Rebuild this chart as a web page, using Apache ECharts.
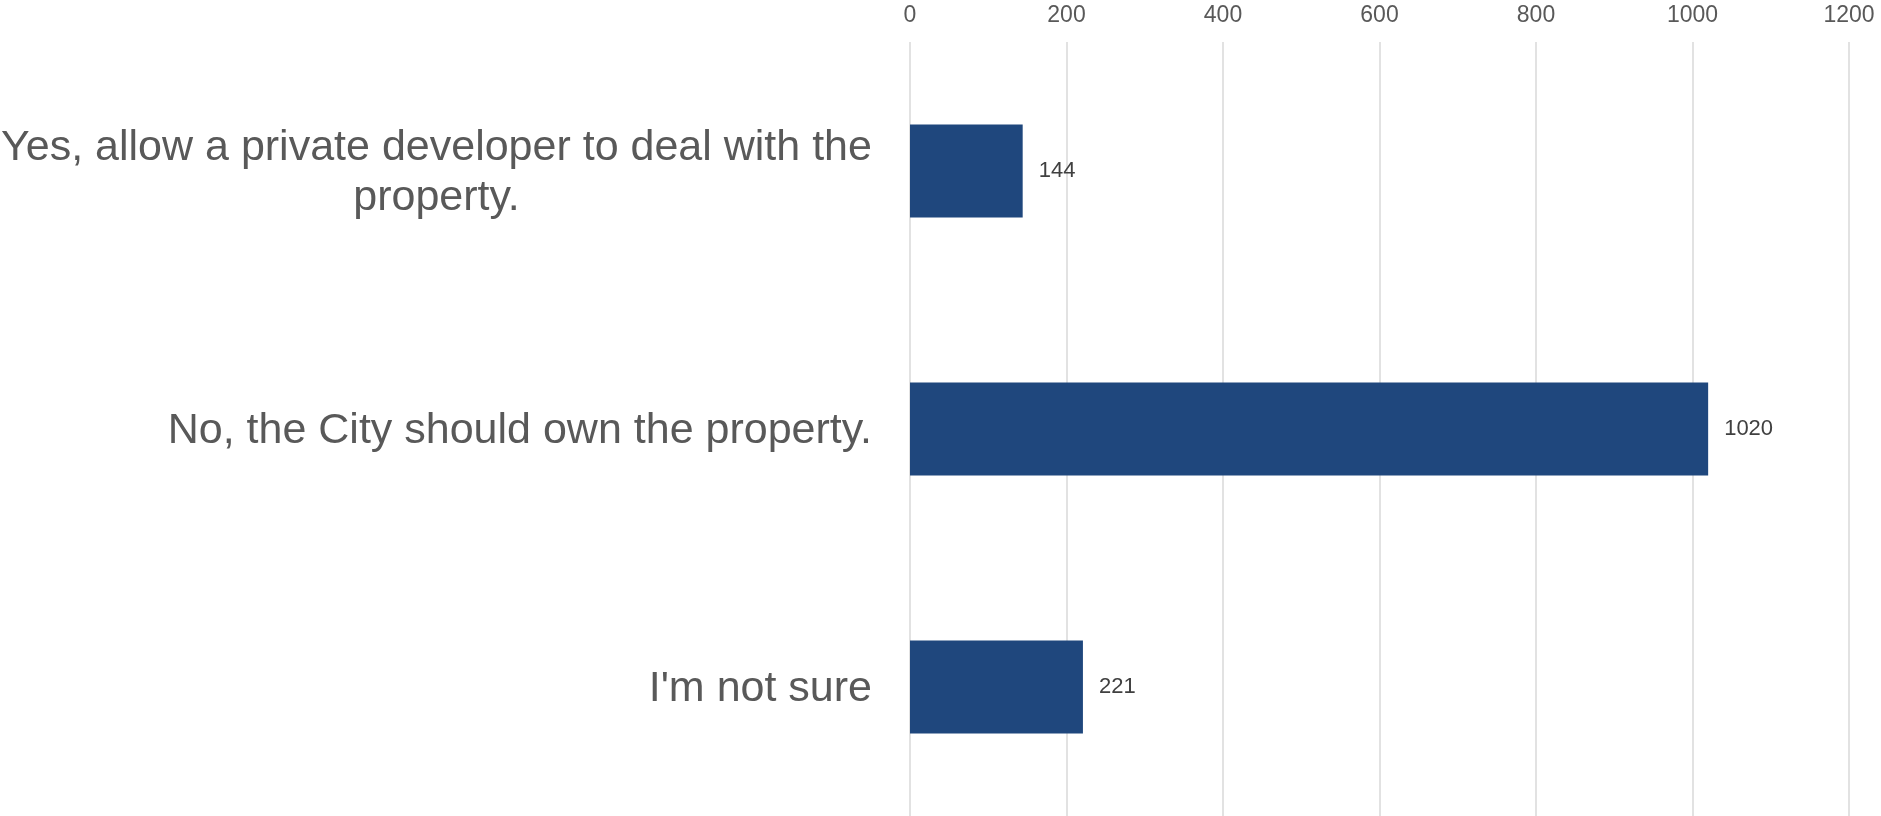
<!DOCTYPE html>
<html>
<head>
<meta charset="utf-8">
<script src="https://cdn.jsdelivr.net/npm/echarts@6/dist/echarts.min.js"></script>
<style>html,body{margin:0;padding:0;background:#fff}#c{width:1881px;height:816px}</style>
</head>
<body>
<div id="c"></div>
<script>
const categories = ["Yes, allow a private developer to deal with the property.", "No, the City should own the property.", "I'm not sure"];
const values = [144, 1020, 221];
const axisMin = 0, axisMax = 1200, axisStep = 200;

const FONT = 'Liberation Sans';
const CAT_SIZE = 43;

function wrapLines(s, maxChars) {
  const words = s.split(' ');
  const lines = [];
  let cur = '';
  for (const w of words) {
    const t = cur ? cur + ' ' + w : w;
    if (t.length > maxChars && cur) { lines.push(cur); cur = w; } else { cur = t; }
  }
  if (cur) lines.push(cur);
  return lines;
}

const ctx = document.createElement('canvas').getContext('2d');
ctx.font = CAT_SIZE + 'px "' + FONT + '"';
const rich = {};
const labelText = {};
categories.forEach((c, i) => {
  const lines = wrapLines(c, 48);
  if (lines.length === 1) { labelText[c] = c; return; }
  const w = Math.ceil(Math.max(...lines.map(l => ctx.measureText(l).width)));
  const key = 'c' + i;
  rich[key] = {width: w, align: 'center', fontFamily: FONT, fontSize: CAT_SIZE, color: '#595959', lineHeight: 50};
  labelText[c] = lines.map(l => '{' + key + '|' + l + '}').join('\n');
});

const chart = echarts.init(document.getElementById('c'), null, {renderer: 'canvas'});
chart.setOption({
  animation: false,
  backgroundColor: '#ffffff',
  grid: {left: 910, right: 32, top: 42, bottom: 0, containLabel: false, outerBoundsMode: 'none'},
  xAxis: {
    type: 'value', position: 'top', min: axisMin, max: axisMax, interval: axisStep,
    axisLine: {show: false}, axisTick: {show: false},
    axisLabel: {fontFamily: FONT, fontSize: 23, color: '#595959', margin: 15,
      formatter: v => String(v)},
    splitLine: {lineStyle: {color: '#d9d9d9', width: 1.5}}
  },
  yAxis: {
    type: 'category', data: categories, inverse: true,
    axisLine: {show: false}, axisTick: {show: false},
    axisLabel: {fontFamily: FONT, fontSize: CAT_SIZE, color: '#595959', margin: 38,
      lineHeight: 50, align: 'right', padding: [5, 0, 0, 0], rich: rich, formatter: v => labelText[v]}
  },
  series: [{
    type: 'bar', data: values, barWidth: '36%',
    itemStyle: {color: '#1f477d'},
    label: {show: true, position: 'right', distance: 16, fontFamily: FONT, fontSize: 22, color: '#404040'}
  }]
});
</script>
</body>
</html>
